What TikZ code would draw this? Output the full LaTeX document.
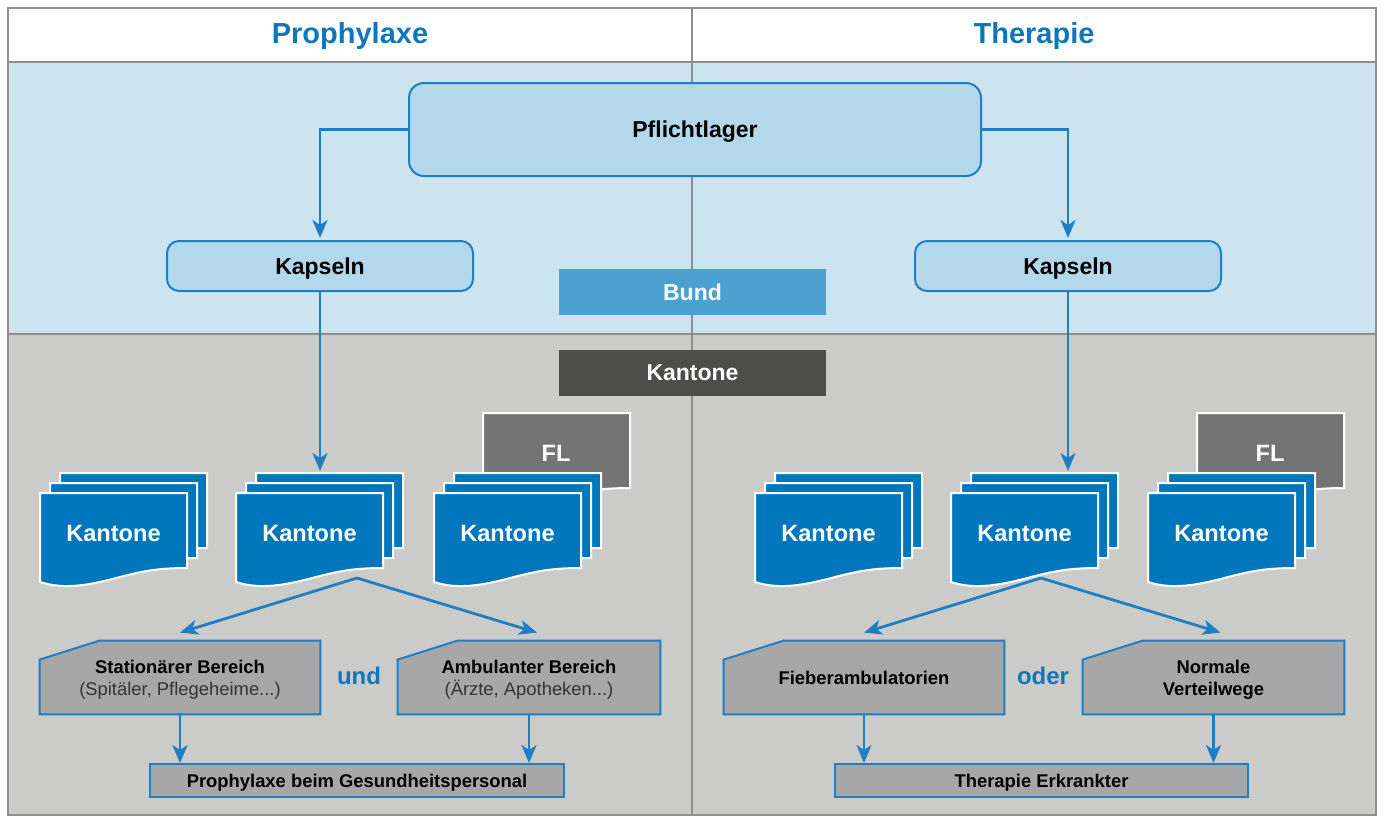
\documentclass[tikz,border=0pt]{standalone}
\usepackage{fontspec}
\setmainfont{Liberation Sans}
\usetikzlibrary{arrows.meta}

\definecolor{frame}{HTML}{8E8E8E}
\definecolor{headblue}{HTML}{0D77BA}
\definecolor{bundbg}{HTML}{CCE3F0}
\definecolor{kantbg}{HTML}{CBCBCA}
\definecolor{boxblue}{HTML}{B3D8EB}
\definecolor{lineblue}{HTML}{1F7FC2}
\definecolor{bundblue}{HTML}{4CA1D1}
\definecolor{kantgray}{HTML}{4D4D4C}
\definecolor{sheetblue}{HTML}{0077BC}
\definecolor{flgray}{HTML}{747474}
\definecolor{areagray}{HTML}{A6A7A6}
\definecolor{textgray}{HTML}{333333}

\pgfdeclarelayer{back}
\pgfsetlayers{back,main}

\tikzset{every node/.style={inner sep=0pt, text depth=0pt, text=black, font=\bfseries\fontsize{11.5}{13}\selectfont},
         head/.style={text=headblue, font=\bfseries\fontsize{14.5}{16}\selectfont},
         rbox/.style={draw=lineblue, line width=1pt, fill=boxblue, rounded corners=7.5pt},
         bar/.style={minimum width=133.5pt, minimum height=23pt, text=white},
         sheet/.style={draw=white, line width=1pt},
         doc/.pic={\draw[sheet, fill=#1] (0,0) -- (147,0) -- (147,75)
                      .. controls (115,75) and (100,79) .. (80,84)
                      .. controls (50,92) and (25,97) .. (0,89) -- cycle;},
         doclabel/.style={text=white, font=\bfseries\fontsize{11.8}{13}\selectfont},
         area/.style={minimum height=36.5pt, align=center, font=\bfseries\fontsize{9.2}{11}\selectfont},
         areaframe/.style={draw=lineblue, line width=1pt, fill=areagray},
         goal/.style={draw=lineblue, line width=1pt, fill=areagray, minimum height=16.5pt,
                      font=\bfseries\fontsize{9.2}{11}\selectfont},
         conj/.style={text=headblue, font=\bfseries\fontsize{12}{14}\selectfont},
         link/.style={draw=lineblue, line width=1.4pt, -{Stealth[length=9pt, width=7.5pt, inset=2.5pt]}}}

% a stack of three sheets with its label
\newcommand{\kstack}[3]{%
  \foreach \d in {20,10,0}
    \pic at (#2+\d,#3-\d) {doc=sheetblue};
  \node[doclabel] (#1) at (#2+73.5,#3+40) {Kantone};
}

\begin{document}
\begin{tikzpicture}[x=0.5pt, y=-0.5pt]
\useasboundingbox (0,0) rectangle (1384,816);
\begin{pgfonlayer}{back}
  \fill[white] (0,0) rectangle (1384,816);
  \fill[bundbg] (8,62) rectangle (1376,334);
  \fill[kantbg] (8,334) rectangle (1376,816);
  \draw[frame, line width=1pt] (8,8) rectangle (1376,815);
  \draw[frame, line width=1pt] (8,62) -- (1376,62) (8,334) -- (1376,334) (692,8) -- (692,816);
\end{pgfonlayer}

% header
\node[head] (proph) at (350,33) {Prophylaxe};
\node[head] (ther) at (1034,33) {Therapie};

% Bund
\node[rbox, minimum width=286pt, minimum height=46.5pt] (pfl) at (695,129.5) {Pflichtlager};
\node[rbox, minimum width=153pt, minimum height=25pt, rounded corners=6pt] (kapL) at (320,266) {Kapseln};
\node[rbox, minimum width=153pt, minimum height=25pt, rounded corners=6pt] (kapR) at (1068,266) {Kapseln};
\node[bar, fill=bundblue] (bund) at (692.5,292) {Bund};
\node[bar, fill=kantgray] (kant) at (692.5,373) {Kantone};

\draw[link, shorten >=1pt] (pfl.west) -| (kapL.north);
\draw[link, shorten >=1pt] (pfl.east) -| (kapR.north);

% Kantone
\node[area, minimum width=140pt] (stat) at (180,677.5)
  {Stationärer Bereich\\{\mdseries\color{textgray}(Spitäler, Pflegeheime...)}};
\node[area, minimum width=131pt] (amb) at (529,677.5)
  {Ambulanter Bereich\\{\mdseries\color{textgray}(Ärzte, Apotheken...)}};
\node[area, minimum width=140pt] (fieb) at (864,677.5) {Fieberambulatorien};
\node[area, minimum width=130.5pt] (norm) at (1213.5,677.5) {Normale\\Verteilwege};
\begin{pgfonlayer}{back}
  \foreach \n in {stat,amb,fieb,norm}
    \draw[areaframe] (\n.south west) -- ([yshift=-9.5pt]\n.north west) -- ([xshift=30pt]\n.north west)
      -- (\n.north east) -- (\n.south east) -- cycle;
\end{pgfonlayer}
\node[conj] (und) at (359,676) {und};
\node[conj] (oder) at (1043,676) {oder};

\node[goal, minimum width=207pt] (goalL) at (357,780.5) {Prophylaxe beim Gesundheitspersonal};
\node[goal, minimum width=206.5pt] (goalR) at (1041.5,780.5) {Therapie Erkrankter};

\coordinate (inL) at (320,473);
\coordinate (inR) at (1068,473);
\coordinate (forkL) at (357,578);
\coordinate (forkR) at (1041,578);
\draw[link, shorten >=1pt] (kapL.south) -- (inL);
\draw[link, shorten >=1pt] (kapR.south) -- (inR);
\draw[link] (forkL) -- ([yshift=4pt]stat.north);
\draw[link] (forkL) -- ([xshift=4pt, yshift=4pt]amb.north);
\draw[link] (forkR) -- ([yshift=4pt]fieb.north);
\draw[link] (forkR) -- ([xshift=3.5pt, yshift=4pt]norm.north);

\draw[link] (stat.south) -- (stat.south |- goalL.north);
\draw[link] (amb.south) -- (amb.south |- goalL.north);
\draw[link] (fieb.south) -- (fieb.south |- goalR.north);
\draw[link] (norm.south) -- (norm.south |- goalR.north);

% sheets
\pic at (483,413) {doc=flgray};
\node[doclabel] (flL) at (556,453) {FL};
\pic at (1197,413) {doc=flgray};
\node[doclabel] (flR) at (1270,453) {FL};
\kstack{kanL1}{40}{493}
\kstack{kanL2}{236}{493}
\kstack{kanL3}{434}{493}
\kstack{kanR1}{755}{493}
\kstack{kanR2}{951}{493}
\kstack{kanR3}{1148}{493}
\end{tikzpicture}
\end{document}
